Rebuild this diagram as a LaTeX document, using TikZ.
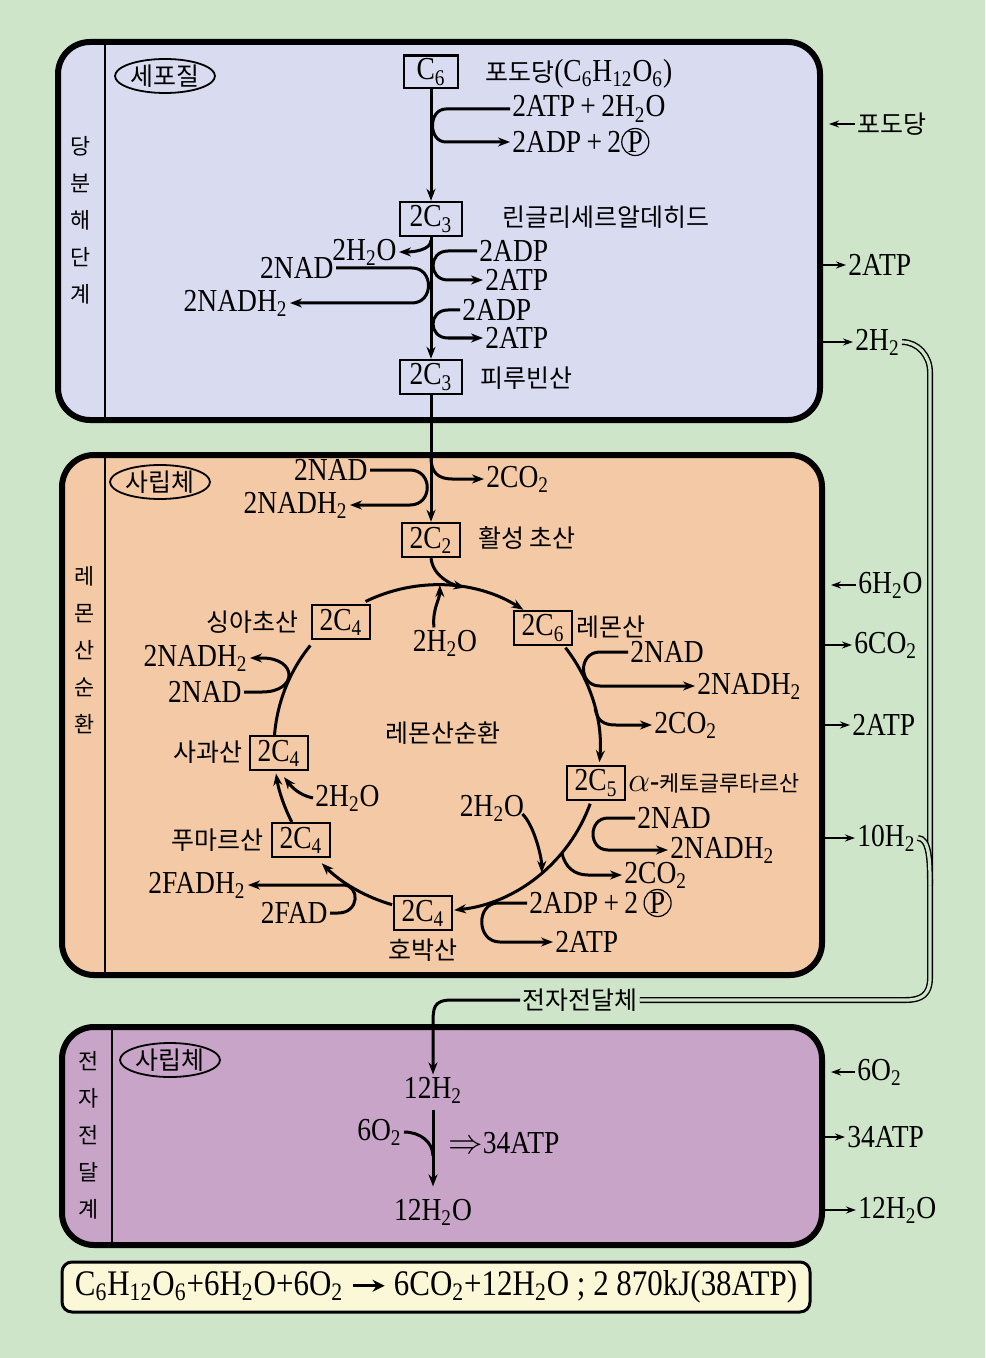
\documentclass[tikz,border=0pt]{standalone}
\usepackage{fontspec}
\setmainfont{Liberation Serif}[FakeStretch=0.86]
\newfontfamily\kr{Noto Sans CJK KR}[Scale=0.78]
\usetikzlibrary{arrows.meta,calc,shapes.geometric}
\definecolor{bggreen}{RGB}{206,229,202}
\definecolor{glyfill}{RGB}{217,220,240}
\definecolor{tcafill}{RGB}{244,201,165}
\definecolor{etcfill}{RGB}{200,165,200}
\definecolor{sumfill}{RGB}{250,248,214}
\newcommand{\sbs}[1]{\textsubscript{#1}}
\newcommand{\hk}[1]{{\kr #1}}
\newcommand{\cP}{\tikz[baseline=(cpn.base)]\node[draw,circle,inner sep=0.2pt,line width=0.6pt](cpn){P};}
\newcommand{\yields}{\tikz[baseline=-0.6ex]\draw[line width=1.6pt,-{Stealth[length=6pt,width=6pt]}] (0pt,0pt) -- (16pt,0pt);}

\begin{document}
\begin{tikzpicture}[x=0.5pt, y=-0.5pt, >={Stealth[length=6pt,width=4.5pt]},
    font=\fontsize{16}{18}\selectfont,
    every node/.style={inner sep=1pt},
    stage/.style={draw, line width=3pt, rounded corners=16pt, inner sep=0pt},
    cbox/.style={draw, line width=1.2pt, minimum width=29pt, minimum height=17pt, inner sep=1.5pt},
    ell/.style={draw, ellipse, line width=0.9pt, minimum width=50pt, minimum height=17pt, inner sep=0pt},
    flow/.style={line width=1.5pt, ->},
    link/.style={line width=1.5pt},
    sarr/.style={line width=1.1pt, ->, >={Stealth[length=5pt,width=3.5pt]}},
    rail/.style={double=bggreen, double distance=1.6pt, line width=0.7pt},
    vlab/.style={font=\kr\fontsize{14}{18.5}\selectfont, align=center}]
    \fill[bggreen] (0,0) rectangle (985,1358);
    \useasboundingbox (0,0) rectangle (985,1358);
    %% stages
    \node[stage, fill=glyfill, minimum width=381pt, minimum height=189pt] (glybox) at (439,231) {};
    \node[stage, fill=tcafill, minimum width=380pt, minimum height=260pt] (tcabox) at (442,715) {};
    \node[stage, fill=etcfill, minimum width=380pt, minimum height=109pt] (etcbox) at (442,1136) {};
    \node[draw, line width=1.5pt, rounded corners=5pt, fill=sumfill,
          minimum width=374pt, minimum height=25pt, font=\fontsize{18}{20}\selectfont]
        (sum) at (436,1287) {C\sbs6H\sbs{12}O\sbs6+6H\sbs2O+6O\sbs2 \yields\ 6CO\sbs2+12H\sbs2O ; 2 870kJ(38ATP)};
    \coordinate (dv1) at (105,0);
    \coordinate (dv3) at (112,0);
    \draw[line width=1pt] (glybox.north -| dv1) -- (glybox.south -| dv1);
    \draw[line width=1pt] (tcabox.north -| dv1) -- (tcabox.south -| dv1);
    \draw[line width=1pt] (etcbox.north -| dv3) -- (etcbox.south -| dv3);
    \node[vlab] (lab1) at (81,220) {당\\분\\해\\단\\계};
    \node[vlab] (lab2) at (85,650) {레\\몬\\산\\순\\환};
    \node[vlab] (lab3) at (89,1135) {전\\자\\전\\달\\계};
    \node[ell] (cyto) at (165,76) {\hk{세포질}};
    \node[ell] (mito1) at (160,482) {\hk{사립체}};
    \node[ell] (mito2) at (170,1060) {\hk{사립체}};
    %% glycolysis
    \node[cbox, minimum width=27pt, minimum height=15.5pt] (c6) at (431,72) {C\sbs6};
    \node[cbox, minimum width=31pt] (c3a) at (431,219) {2C\sbs3};
    \node[cbox, minimum width=31pt] (c3b) at (431,377) {2C\sbs3};
    \node[anchor=west] (glc) at (483,74) {\hk{포도당}(C\sbs6H\sbs{12}O\sbs6)};
    \node[anchor=west] (atpin) at (510,109) {2ATP\,+\,2H\sbs2O};
    \node[anchor=west] (adpout) at (510,142) {2ADP\,+\,2\cP};
    \node[anchor=west] (gald) at (500,217) {\hk{린글리세르알데히드}};
    \node[anchor=east] (h2oa) at (399,252) {2H\sbs2O};
    \node[anchor=east] (nada) at (336,268) {2NAD};
    \node[anchor=east] (nadha) at (290,303) {2NADH\sbs2};
    \node[anchor=west] (adpa) at (477,251) {2ADP};
    \node[anchor=west] (atpa) at (483,280) {2ATP};
    \node[anchor=west] (adpb) at (460,310) {2ADP};
    \node[anchor=west] (atpb) at (483,338) {2ATP};
    \node[anchor=west] (pyr) at (478,378) {\hk{피루빈산}};
    \draw[flow] (c6) -- (c3a);
    \draw[flow] (atpin.west) -- (446,109) .. controls (428,109) and (428,142) .. (446,142) -- (adpout.west);
    \draw[flow] (c3a) -- (c3b);
    \draw[flow] ($(c3a.south)+(0,3)$) .. controls +(0,10) and +(14,0) .. (h2oa.east);
    \draw[flow] (nada.east) -- (412,268) .. controls (434,268) and (434,303) .. (412,303) -- (nadha.east);
    \draw[flow] (adpa.west) -- (448,251) .. controls (428,251) and (428,280) .. (448,280) -- (atpa.west);
    \draw[flow] (adpb.west) -- (448,310) .. controls (428,310) and (428,338) .. (448,338) -- (atpb.west);
    \node[anchor=west] (glcin) at (855,124) {\hk{포도당}};
    \node[anchor=west] (atpo1) at (846,265) {2ATP};
    \node[anchor=west] (h2a) at (853,342) {2H\sbs2};
    \draw[sarr, shorten >=3pt] (glcin.west) -- (glcin.west -| glybox.east);
    \draw[sarr] (atpo1.west -| glybox.east) -- (atpo1.west);
    \draw[sarr] (h2a.west -| glybox.east) -- (h2a.west);
    %% link reaction
    \node[cbox] (c2) at (431,540) {2C\sbs2};
    \node[anchor=west] (acet) at (476,538) {\hk{활성 초산}};
    \draw[flow] (c3b) -- (c2);
    \coordinate (jco2) at (431,458);
    \node[anchor=west] (co2a) at (484,479) {2CO\sbs2};
    \draw[flow] (jco2) .. controls +(0,14) and +(-14,0) .. (452,479) -- (co2a.west);
    \node[anchor=east] (nadb) at (370,470) {2NAD};
    \node[anchor=east] (nadhb) at (350,505) {2NADH\sbs2};
    \draw[flow] (nadb.east) -- (410,470) .. controls (433,470) and (433,505) .. (410,505) -- (nadhb.east);
    %% cycle
    \coordinate (cyc) at (437,748);
    \node[cbox] (cit) at (543,628) {2C\sbs6};
    \node[cbox] (akg) at (596,783) {2C\sbs5};
    \node[cbox] (suc) at (423,913) {2C\sbs4};
    \node[cbox] (fum) at (301,840) {2C\sbs4};
    \node[cbox] (mal) at (279,753) {2C\sbs4};
    \node[cbox] (oxa) at (341,622) {2C\sbs4};
    \node[anchor=west] (citn) at (574,627) {\hk{레몬산}};
    \node[anchor=west] (akgn) at (626,783) {$\alpha$-{\fontsize{14}{16}\selectfont\hk{케토글루타르산}}};
    \node (sucn) at (423,950) {\hk{호박산}};
    \node[anchor=east] (fumn) at (266,840) {\hk{푸마르산}};
    \node[anchor=east] (maln) at (245,752) {\hk{사과산}};
    \node[anchor=east] (oxan) at (301,622) {\hk{싱아초산}};
    \node (cycn) at (443,733) {\hk{레몬산순환}};
    \draw[flow] ($(cyc)+(-116:163)$) arc[start angle=-116, end angle=-58, radius=163];
    \draw[flow] ($(cyc)+(-38:163)$) arc[start angle=-38, end angle=5, radius=163];
    \draw[flow] ($(cyc)+(20:163)$) arc[start angle=20, end angle=84, radius=163];
    \draw[flow] ($(cyc)+(106:163)$) arc[start angle=106, end angle=135, radius=163];
    \draw[flow] ($(cyc)+(153:163)$) arc[start angle=153, end angle=171, radius=163];
    \draw[link] ($(cyc)+(184:163)$) arc[start angle=184, end angle=219, radius=163];
    \draw[flow] (c2.south) .. controls +(2,18) and +(-14,-3) .. ($(cyc)+(-80:163)$);
    \node (h2oe) at (445,643) {2H\sbs2O};
    \draw[flow] ($(h2oe.north)+(-11,0)$) .. controls +(-2,-18) and +(0,14) .. ($(cyc)+(-89:163)$);
    \node[anchor=west] (nadc) at (628,652) {2NAD};
    \node[anchor=west] (nadhc) at (695,686) {2NADH\sbs2};
    \draw[flow] (nadc.west) -- (600,652) .. controls (578,652) and (578,686) .. (600,686) -- (nadhc.west);
    \node[anchor=west] (co2b) at (652,725) {2CO\sbs2};
    \draw[flow] ($(cyc)+(-14:163)$) .. controls +(2,11) and +(-14,0) .. (616,725) -- (co2b.west);
    \node[anchor=west] (nadd) at (635,818) {2NAD};
    \node[anchor=west] (nadhd) at (668,850) {2NADH\sbs2};
    \draw[flow] (nadd.west) -- (608,818) .. controls (588,818) and (588,850) .. (608,850) -- (nadhd.west);
    \node[anchor=west] (co2c) at (622,875) {2CO\sbs2};
    \draw[flow] ($(cyc)+(40:163)$) .. controls +(3,14) and +(-14,0) .. (588,875) -- (co2c.west);
    \node[anchor=west] (adpc) at (527,903) {2ADP\,+\,2\,\cP};
    \node[anchor=west] (atpc) at (553,942) {2ATP};
    \draw[flow] (adpc.west) -- (498,903) .. controls (476,903) and (476,942) .. (500,942) -- (atpc.west);
    \node (h2oc) at (492,808) {2H\sbs2O};
    \draw[flow] ($(h2oc.east)+(-4,6)$) .. controls +(12,12) and +(0,-15) .. ($(cyc)+(50:163)$);
    \node[anchor=east] (fad) at (330,913) {2FAD};
    \node[anchor=east] (fadh) at (248,885) {2FADH\sbs2};
    \draw[flow] (fad.east) -- (338,913) .. controls (360,913) and (360,885) .. (343,885) -- (fadh.east);
    \node[anchor=west] (h2od) at (313,798) {2H\sbs2O};
    \draw[flow] (h2od.west) .. controls +(-14,-3) and +(8,10) .. ($(mal.south)+(5,6)$);
    \node[anchor=east] (nade) at (244,692) {2NAD};
    \node[anchor=east] (nadhe) at (250,658) {2NADH\sbs2};
    \draw[flow] (nade.east) -- (262,692) .. controls (298,692) and (298,658) .. (262,658) -- (nadhe.east);
    \node[anchor=west] (h2oin) at (856,585) {6H\sbs2O};
    \node[anchor=west] (co2o) at (852,645) {6CO\sbs2};
    \node[anchor=west] (atpo2) at (850,725) {2ATP};
    \node[anchor=west] (h10) at (855,838) {10H\sbs2};
    \draw[sarr, shorten >=3pt] (h2oin.west) -- (h2oin.west -| tcabox.east);
    \draw[sarr] (co2o.west -| tcabox.east) -- (co2o.west);
    \draw[sarr] (atpo2.west -| tcabox.east) -- (atpo2.west);
    \draw[sarr] (h10.west -| tcabox.east) -- (h10.west);
    %% electron transport
    \node (carrier) at (580,1000) {\hk{전자전달체}};
    \draw[rail] (h2a.east) .. controls +(16,0) and +(0,-16) .. (930,372) -- (930,978)
          .. controls +(0,16) and +(16,0) .. (906,1000) -- (carrier.east);
    \draw[rail] (h10.east) .. controls +(12,0) and +(0,-22) .. (930,885);
    \node (h12) at (433,1090) {12H\sbs2};
    \node (h2o12) at (433,1212) {12H\sbs2O};
    \draw[flow] (carrier.west) -- (452,1000) .. controls (433,1000) and (433,1008) .. (433,1025) -- (h12.north);
    \draw[flow] ($(h12.south)+(0,4)$) -- ($(h2o12.north)+(0,-10)$);
    \node[anchor=east] (o6) at (404,1132) {6O\sbs2};
    \draw[link] (o6.east) .. controls +(16,0) and +(0,-14) .. (433,1156);
    \node[anchor=west] (atp34) at (446,1143) {$\Rightarrow$34ATP};
    \node[anchor=west] (o2in) at (855,1072) {6O\sbs2};
    \node[anchor=west] (atp34o) at (845,1137) {34ATP};
    \node[anchor=west] (h2o12o) at (856,1210) {12H\sbs2O};
    \draw[sarr, shorten >=3pt] (o2in.west) -- (o2in.west -| etcbox.east);
    \draw[sarr] (atp34o.west -| etcbox.east) -- (atp34o.west);
    \draw[sarr] (h2o12o.west -| etcbox.east) -- (h2o12o.west);
\end{tikzpicture}
\end{document}
